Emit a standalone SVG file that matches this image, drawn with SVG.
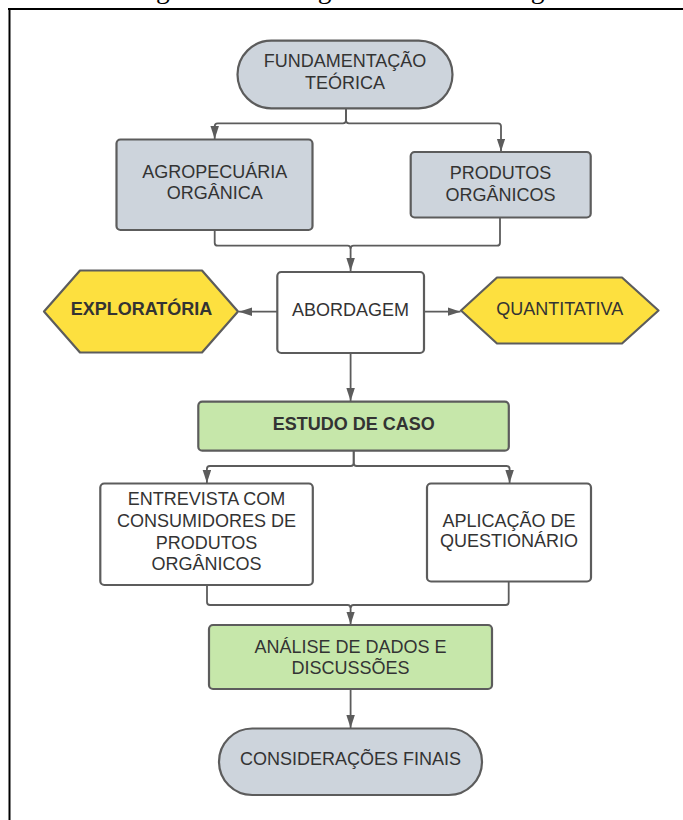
<svg xmlns="http://www.w3.org/2000/svg" width="683" height="820" viewBox="0 0 683 820">
<defs>
<style>
.t{font-family:"Liberation Sans",Arial,sans-serif;font-size:18px;fill:#333333;text-anchor:middle}
.b{font-weight:bold}
.gray{fill:#cdd4dc;stroke:#5c5c5c;stroke-width:2.2}
.white{fill:#ffffff;stroke:#5c5c5c;stroke-width:2.2}
.green{fill:#c6e7aa;stroke:#5c5c5c;stroke-width:2.2}
.yellow{fill:#fde03f;stroke:#5c5c5c;stroke-width:2.2;stroke-linejoin:round}
.c{fill:none;stroke:#5c5c5c;stroke-width:1.8}
.cap{font-family:"Liberation Serif","Times New Roman",serif;font-size:27.6px;fill:#000}
</style>
<marker id="ah" markerUnits="userSpaceOnUse" markerWidth="14" markerHeight="10" refX="13" refY="4.25" orient="auto">
<path d="M0,0 L13,4.25 L0,8.5 z" fill="#5c5c5c"/>
</marker>
</defs>
<rect width="683" height="820" fill="#ffffff"/>
<text class="cap" x="133" y="-2.5">Figura 1 – Fluxograma da metodologia</text>
<path d="M8,9 H683 M9.5,8 V820" stroke="#000" stroke-width="2" fill="none"/>

<g id="connectors">
<path class="c" d="M346,108 V120.3 Q346,123.3 343,123.3 H217.7 Q214.7,123.3 214.7,126.3 V139" marker-end="url(#ah)"/>
<path class="c" d="M346,108 V120.3 Q346,123.3 349,123.3 H498 Q501,123.3 501,126.3 V151.5" marker-end="url(#ah)"/>
<path class="c" d="M214.7,230 V242.7 Q214.7,245.7 217.7,245.7 H347.6 Q350.6,245.7 350.6,248.7 V271" marker-end="url(#ah)"/>
<path class="c" d="M500,218 V242.7 Q500,245.7 497,245.7 H353.6 Q350.6,245.7 350.6,248.7"/>
<path class="c" d="M277,311.7 H239" marker-end="url(#ah)"/>
<path class="c" d="M424,311.7 H460.5" marker-end="url(#ah)"/>
<path class="c" d="M350.6,353 V401" marker-end="url(#ah)"/>
<path class="c" d="M353.7,451 V463 Q353.7,466 350.7,466 H209.9 Q206.9,466 206.9,469 V483" marker-end="url(#ah)"/>
<path class="c" d="M353.7,451 V463 Q353.7,466 356.7,466 H506.6 Q509.6,466 509.6,469 V483" marker-end="url(#ah)"/>
<path class="c" d="M207,585 V602 Q207,605 210,605 H347.6 Q350.6,605 350.6,608 V624.5" marker-end="url(#ah)"/>
<path class="c" d="M508.7,582 V602 Q508.7,605 505.7,605 H353.6 Q350.6,605 350.6,608"/>
<path class="c" d="M350.6,689 V728" marker-end="url(#ah)"/>
</g>

<g id="fundamentacao">
<rect class="gray" x="237.5" y="40.7" width="215" height="67.6" rx="33.8"/>
<text class="t" x="345" y="66.7">FUNDAMENTAÇÃO</text>
<text class="t" x="345" y="89.3">TEÓRICA</text>
</g>

<g id="agropecuaria">
<rect class="gray" x="116.5" y="139.5" width="196" height="90.5" rx="4"/>
<text class="t" x="214.7" y="178">AGROPECUÁRIA</text>
<text class="t" x="214.7" y="199.3">ORGÂNICA</text>
</g>

<g id="produtos">
<rect class="gray" x="410.7" y="152" width="180" height="65.5" rx="4"/>
<text class="t" x="500.5" y="179.3">PRODUTOS</text>
<text class="t" x="500.5" y="200.7">ORGÂNICOS</text>
</g>

<g id="abordagem">
<rect class="white" x="277.3" y="272" width="146.7" height="81" rx="4"/>
<text class="t" x="350.6" y="315.7">ABORDAGEM</text>
</g>

<g id="exploratoria">
<path class="yellow" d="M44,311.5 L80,270.5 H202 L238,311.5 L202,352.5 H80 Z"/>
<text class="t b" x="141.5" y="315.3">EXPLORATÓRIA</text>
</g>

<g id="quantitativa">
<path class="yellow" d="M461,310.5 L497,277.5 H622 L658.5,310.5 L622,343.5 H497 Z"/>
<text class="t" x="559.7" y="315.3">QUANTITATIVA</text>
</g>

<g id="estudo">
<rect class="green" x="198.3" y="401.7" width="310.5" height="49" rx="4"/>
<text class="t b" x="353.7" y="430">ESTUDO DE CASO</text>
</g>

<g id="entrevista">
<rect class="white" x="100.3" y="483.5" width="212.5" height="101.5" rx="4"/>
<text class="t" x="206.5" y="505">ENTREVISTA COM</text>
<text class="t" x="206.5" y="527">CONSUMIDORES DE</text>
<text class="t" x="206.5" y="548.5">PRODUTOS</text>
<text class="t" x="206.5" y="570">ORGÂNICOS</text>
</g>

<g id="aplicacao">
<rect class="white" x="427" y="483.5" width="164" height="98" rx="4"/>
<text class="t" x="509" y="526.5">APLICAÇÃO DE</text>
<text class="t" x="509" y="547">QUESTIONÁRIO</text>
</g>

<g id="analise">
<rect class="green" x="209" y="625" width="283" height="64" rx="4"/>
<text class="t" x="350.6" y="653.3">ANÁLISE DE DADOS E</text>
<text class="t" x="350.6" y="674">DISCUSSÕES</text>
</g>

<g id="consideracoes">
<rect class="gray" x="219" y="728.5" width="263" height="66.5" rx="33.2"/>
<text class="t" x="350.6" y="765">CONSIDERAÇÕES FINAIS</text>
</g>
</svg>
